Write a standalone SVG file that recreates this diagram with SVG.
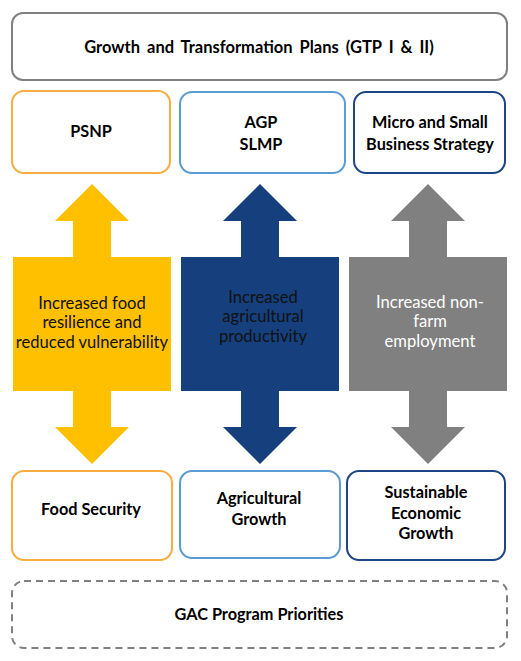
<svg xmlns="http://www.w3.org/2000/svg" width="521" height="661" viewBox="0 0 521 661">
<style>
.box{fill:#fff;stroke-width:2}
.gray{stroke:#808080}
.orange{stroke:#F7AD3F}
.lblue{stroke:#5B9BD5}
.navy{stroke:#1B4585}
.dash{stroke:#808080;stroke-dasharray:7 5}
.b{font-family:Lato,"Liberation Sans",sans-serif;font-weight:bold;font-size:16.3px;fill:#000;text-anchor:middle}
.t{font-size:16.5px;word-spacing:3px}
.r{font-family:Lato,"Liberation Sans",sans-serif;font-size:16.6px;text-anchor:middle}
</style>
<defs>
<path id="arrow" d="M0,0 L37,37 L19,37 L19,73 L79,73 L79,207 L19,207 L19,243 L37,243 L0,280 L-37,243 L-19,243 L-19,207 L-79,207 L-79,73 L-19,73 L-19,37 L-37,37 Z"/>
</defs>
<g id="gtp">
<rect class="box gray" x="12" y="13" width="495" height="67" rx="11"/>
<text class="b t" x="259" y="53">Growth and Transformation Plans (GTP I &amp; II)</text>
</g>
<g id="psnp">
<rect class="box orange" x="12" y="91" width="158" height="82" rx="12"/>
<text class="b" x="91" y="137">PSNP</text>
</g>
<g id="agp">
<rect class="box lblue" x="180" y="92" width="165" height="81" rx="12"/>
<text class="b" x="261" y="128">AGP</text>
<text class="b" x="261" y="150">SLMP</text>
</g>
<g id="msbs">
<rect class="box navy" x="354" y="92" width="151" height="81" rx="12"/>
<text class="b" x="430" y="128">Micro and Small</text>
<text class="b" x="430" y="150">Business Strategy</text>
</g>
<g id="connectors">
<use href="#arrow" x="92" y="184" fill="#FFC000"/>
<use href="#arrow" x="260" y="184" fill="#15407D"/>
<use href="#arrow" x="428" y="184" fill="#808080"/>
</g>
<g id="food-text">
<text class="r" fill="#111" x="92" y="309">Increased food</text>
<text class="r" fill="#111" x="92" y="328">resilience and</text>
<text class="r" fill="#111" x="92" y="348">reduced vulnerability</text>
</g>
<g id="agri-text">
<text class="r" fill="#111" x="263" y="303">Increased</text>
<text class="r" fill="#111" x="263" y="322">agricultural</text>
<text class="r" fill="#111" x="263" y="342">productivity</text>
</g>
<g id="emp-text">
<text class="r" fill="#fff" x="430" y="308">Increased non-</text>
<text class="r" fill="#fff" x="430" y="327">farm</text>
<text class="r" fill="#fff" x="430" y="347">employment</text>
</g>
<g id="food-security">
<rect class="box orange" x="12" y="471" width="160" height="89" rx="12"/>
<text class="b" x="91" y="515">Food Security</text>
</g>
<g id="agri-growth">
<rect class="box lblue" x="180" y="471" width="160" height="87" rx="12"/>
<text class="b" x="259" y="504">Agricultural</text>
<text class="b" x="259" y="525">Growth</text>
</g>
<g id="econ-growth">
<rect class="box navy" x="347" y="471" width="158" height="89" rx="12"/>
<text class="b" x="426" y="498">Sustainable</text>
<text class="b" x="426" y="519">Economic</text>
<text class="b" x="426" y="539">Growth</text>
</g>
<g id="gac">
<rect class="box dash" x="12" y="581" width="495" height="67" rx="12"/>
<text class="b" x="259" y="620">GAC Program Priorities</text>
</g>
</svg>
